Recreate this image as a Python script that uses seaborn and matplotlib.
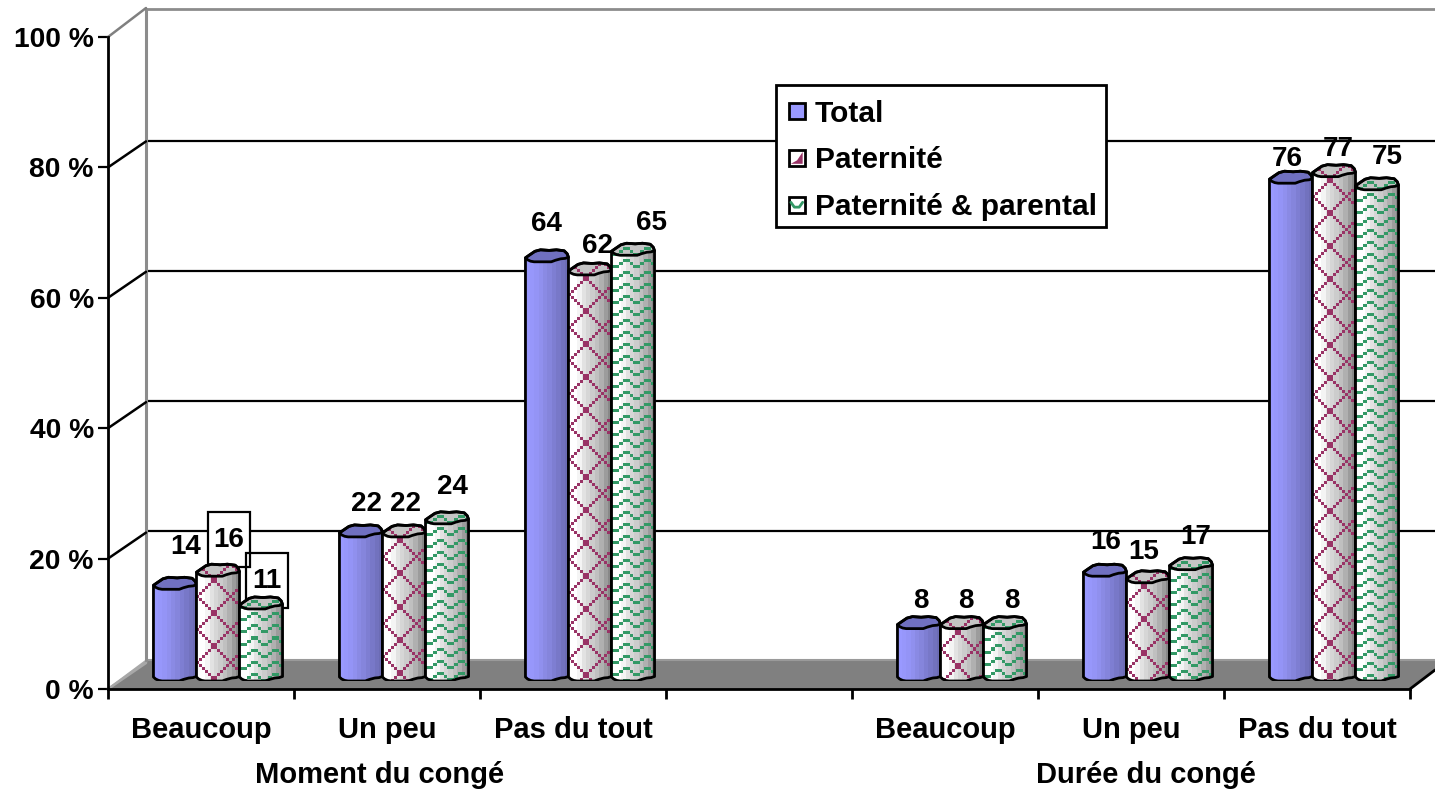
import numpy as np
import pandas as pd
import seaborn as sns
import matplotlib
matplotlib.use("Agg")
import matplotlib.pyplot as plt
from matplotlib.patches import Polygon, Rectangle
from matplotlib.lines import Line2D
from matplotlib.legend_handler import HandlerBase
from matplotlib.transforms import Affine2D

categories = ["Beaucoup", "Un peu", "Pas du tout", "", "Beaucoup", "Un peu", "Pas du tout"]
category_keys = ["M-Beaucoup", "M-Un peu", "M-Pas du tout", "gap", "D-Beaucoup", "D-Un peu", "D-Pas du tout"]
filled_keys = [k for k in category_keys if k != "gap"]
series_names = ["Total", "Paternité", "Paternité & parental"]
total = [14, 22, 64, 8, 16, 76]
paternite = [16, 22, 62, 8, 15, 77]
parental = [11, 24, 65, 8, 17, 75]
group_labels = ["Moment du congé", "Durée du congé"]
yticks = [0, 20, 40, 60, 80, 100]

label_dx = [[11, 6, -1, 2, 1, -4], [11, 1, 7, 4, -4, 4], [6, 5, 18, 7, 5, 10]]
label_dy = [[42, 33, 38, 28, 34, 24], [36, 33, 29, 28, 31, 28], [28, 37, 32, 28, 33, 33]]

W, H = 1435, 789
sns.set_theme(style="white")
plt.rcParams["font.family"] = ["Liberation Sans", "DejaVu Sans"]
plt.rcParams["font.weight"] = "bold"
FS_X, FS_Y, FS_LAB, FS_LEG = 21, 20.3, 20, 21.5

df = pd.DataFrame({
    "key": filled_keys * 3,
    "serie": np.repeat(series_names, 6),
    "val": total + paternite + parental,
})

fig = plt.figure(figsize=(W / 100, H / 100), dpi=100, facecolor="white")
px = Affine2D().scale(1 / W, -1 / H).translate(0, 1) + fig.transFigure


def axes_px(x0, x1, ytop, ybot):
    return fig.add_axes([x0 / W, 1 - ybot / H, (x1 - x0) / W, (ybot - ytop) / H], facecolor="none")


# back walls
back = axes_px(147, 1449, 11, 661)
back.set_xlim(0, 1)
back.set_ylim(0, 100)
back.set_xticks([])
back.set_yticks(yticks)
back.tick_params(left=False, labelleft=False)
for v in yticks[1:-1]:
    back.axhline(v, color="black", lw=1.6, zorder=1)
for s in back.spines.values():
    s.set_visible(False)
fig.add_artist(Line2D([146, 1435], [9, 9], transform=px, color="#8c8c8c", lw=2))
fig.add_artist(Line2D([146, 146], [9, 661], transform=px, color="#8c8c8c", lw=2.2))
fig.add_artist(Polygon([(108, 689), (147, 660), (1435, 660), (1435, 670), (1410, 689)], closed=True,
                       transform=px, facecolor="#808080", edgecolor="none", zorder=1.5))
fig.add_artist(Line2D([147, 1435], [660, 660], transform=px, color="#9a9a9a", lw=1.5, zorder=1.6))
fig.add_artist(Line2D([108, 147], [689, 660], transform=px, color="#a8a8a8", lw=1.5, zorder=1.6))
fig.add_artist(Line2D([1410, 1435], [689, 670], transform=px, color="black", lw=2, zorder=1.6))

# front axes carrying the ticks
front = axes_px(108, 1410, 37, 689)
front.set_zorder(2)
front.set_xlim(-0.5, 6.5)
front.set_ylim(0, 100)
front.spines["top"].set_visible(False)
front.spines["right"].set_visible(False)
for side in ("left", "bottom"):
    front.spines[side].set_linewidth(2)
    front.spines[side].set_color("black")
front.set_yticks(yticks)
front.set_yticklabels([f"{v} %" for v in yticks], fontsize=FS_Y, fontweight="bold", color="black")
front.tick_params(axis="y", left=True, length=7.2, width=1.6, color="black", pad=3)
front.set_xticks(np.arange(-0.5, 7, 1))
front.set_xticklabels([])
front.tick_params(axis="x", which="major", bottom=True, length=7.2, width=2, color="black")
front.set_xticks(range(7), minor=True)
front.set_xticklabels(categories, minor=True, fontsize=FS_X, fontweight="bold", color="black")
front.tick_params(axis="x", which="minor", bottom=False, length=0, pad=19.5)
for v in yticks:
    y0 = 689 - v * 6.52
    front.add_line(Line2D([108, 146], [y0, y0 - (29 if v == 100 else 26)], transform=px, clip_on=False,
                          color="#808080" if v == 100 else ("#a8a8a8" if v == 0 else "black"), lw=1.8))
for gx, lab in zip([0.96, 5.08], group_labels):
    front.annotate(lab, xy=(gx, 0), xycoords=("data", "axes fraction"), xytext=(0, -62),
                   textcoords="offset points", ha="center", va="center",
                   fontsize=FS_X, fontweight="bold", color="black")

# boxes behind two of the labels
fig.add_artist(Rectangle((208, 512), 42, 55, transform=px, facecolor="white", edgecolor="black", lw=1.6, zorder=3))
fig.add_artist(Rectangle((246, 553), 42, 55, transform=px, facecolor="none", edgecolor="black", lw=1.6, zorder=3))

# bars
ax = axes_px(125, 1427, 26, 681)
ax.set_zorder(5)
palette = ["#9999FF", "#993366", "#339966"]
sns.barplot(data=df, x="key", y="val", hue="serie", order=category_keys, hue_order=series_names,
            palette=palette, width=0.694, gap=0, saturation=1, dodge=True, legend=False, ax=ax)
ax.set_xlim(-0.5, 6.5)
ax.set_ylim(0, 100)
ax.axis("off")

PY = 100 / 655  # data units per pixel
front_prof = np.array([(0, 4), (.05, 2), (.12, .6), (.2, 0), (.6, 0), (.7, 1.6), (.82, 3), (.92, 3.4), (1, 4.5)], float)
back_prof = np.array([(1, 4.5), (.97, 8), (.9, 11), (.72, 12), (.55, 11.4), (.35, 12), (.22, 10.5), (.1, 7), (0, 4)], float)

blue_band = ["#9999FF", "#9797FB", "#9494F6", "#9090EE", "#8A8AE4", "#8585DC", "#7E7ED2", "#7878C8", "#7272BE", "#6C6CB4"]
pat_band = ["#FFFFFF", "#FFFFFF", "#F4F4F4", "#E2E2E2", "#D6D6D6", "#CCCCCC", "#C0C0C0", "#B0B0B0", "#9C9C9C", "#888888"]


def rgb(h):
    return np.array(matplotlib.colors.to_rgb(h))


def pattern_mask(kind, w, h):
    xx, yy = np.meshgrid(np.arange(w), np.arange(h))
    bx, by = xx // 3, yy // 3
    if kind == 1:
        return ((bx + by) % 11 == 0) | ((bx - by) % 11 == 0)
    if kind == 2:
        steps = np.array([0, 0, 1, 2, 2, 1])
        tri = steps[(xx * 2 // 7) % 6]
        return (by + tri) % 4 == 0
    return np.zeros((h, w), bool)


for s_i, cont in enumerate(ax.containers):
    vals = [total, paternite, parental][s_i]
    bars = [b for b in cont if b.get_height() > 0 and not np.isnan(b.get_height())]
    for b_i, bar in enumerate(bars):
        x0, bw, v = bar.get_x(), bar.get_width(), bar.get_height()
        bar.set_alpha(0)
        z = 6 + s_i
        fx = x0 + front_prof[:, 0] * bw
        bottom = np.c_[fx, front_prof[:, 1] * PY]
        top_front = np.c_[fx, v + front_prof[:, 1] * PY]
        top_back = np.c_[x0 + back_prof[:, 0] * bw, v + back_prof[:, 1] * PY]
        outline = Polygon(np.vstack([bottom, top_back]), closed=True, facecolor="none",
                          edgecolor="black", lw=2, zorder=z + .3, joinstyle="round")
        ax.add_patch(outline)
        cap = Polygon(np.vstack([top_front, top_back[1:]]), closed=True, facecolor="none",
                      edgecolor="black", lw=2, zorder=z + .3, joinstyle="round")
        ax.add_patch(cap)

        wpx, hpx = 44, int(round((v + 14 * PY) / PY))
        cols = np.array([rgb(c) for c in (blue_band if s_i == 0 else pat_band)])
        band_idx = np.clip((np.arange(wpx) * len(cols) / wpx).astype(int), 0, len(cols) - 1)
        img = np.tile(cols[band_idx][None, :, :], (hpx, 1, 1))
        mask = pattern_mask(s_i, wpx, hpx)
        img[mask] = rgb(palette[s_i])
        ext = (x0, x0 + bw, 0, v + 14 * PY)
        im = ax.imshow(img, extent=ext, origin="upper", aspect="auto", interpolation="nearest", zorder=z)
        im.set_clip_path(outline)

        capimg = np.ones_like(img) * rgb("#7070C0" if s_i == 0 else "#C4C4C4")
        capimg[mask] = rgb(palette[s_i]) if s_i else rgb("#7070C0")
        im2 = ax.imshow(capimg, extent=ext, origin="upper", aspect="auto", interpolation="nearest", zorder=z + .1)
        im2.set_clip_path(cap)

        ax.annotate(str(vals[b_i]), xy=(x0 + bw / 2, v), xycoords="data",
                    xytext=(label_dx[s_i][b_i] * .72, label_dy[s_i][b_i] * .72), textcoords="offset points",
                    ha="center", va="center", fontsize=FS_LAB, fontweight="bold", color="black", zorder=20)
ax.set_xlim(-0.5, 6.5)
ax.set_ylim(0, 100)


class SwatchHandler(HandlerBase):
    def create_artists(self, legend, orig, xd, yd, width, height, fontsize, trans):
        kind = orig.get_label()
        s = 11.5
        ox, oy = -xd + (width - s) / 2, -yd + (height - s) / 2
        arts = [Rectangle((ox, oy), s, s, facecolor="#9999FF" if kind == series_names[0] else "white",
                          edgecolor="black", lw=2, transform=trans)]
        if kind == series_names[1]:
            arts.append(Polygon([(ox + 1.5, oy + 1.5), (ox + 10, oy + 1.5), (ox + 10, oy + 10), (ox + 6, oy + 4)],
                                closed=True, facecolor="#993366", edgecolor="none", transform=trans))
        if kind == series_names[2]:
            arts.append(Line2D([ox + 1.5, ox + 4, ox + 7.5, ox + 10], [oy + 7.5, oy + 4, oy + 4, oy + 7.5],
                               color="#339966", lw=2, transform=trans))
        return arts


ax.add_patch(Rectangle((776, 85), 330, 142, transform=px, facecolor="white", edgecolor="black",
                       lw=2, zorder=29, clip_on=False))
handles = [Line2D([], [], label=n) for n in series_names]
leg = ax.legend(handles=handles, handler_map={Line2D: SwatchHandler()}, loc="upper left",
                bbox_to_anchor=(776 / W, 1 - 87 / H), bbox_transform=fig.transFigure,
                fontsize=FS_LEG, frameon=False, borderaxespad=0, borderpad=0.42, labelspacing=0.63,
                handlelength=0.55, handletextpad=0.32)
leg.set_zorder(30)
for t in leg.get_texts():
    t.set_fontweight("bold")
    t.set_color("black")

fig.savefig("out.png", dpi=100)
